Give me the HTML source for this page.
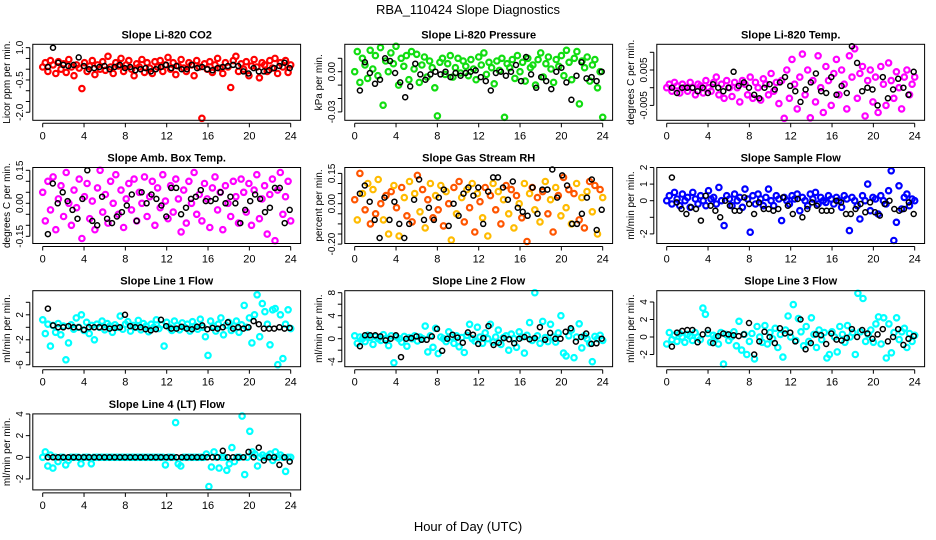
<!DOCTYPE html>
<html><head><meta charset="utf-8"><style>
html,body{margin:0;padding:0;background:#fff;}
svg{display:block;font-family:"Liberation Sans",Arial,sans-serif;}
</style></head><body>
<svg id="chart" width="936" height="540" viewBox="0 0 936 540">
<text x="468" y="14" text-anchor="middle" font-size="13">RBA_110424  Slope Diagnostics</text>
<text x="468" y="531" text-anchor="middle" font-size="13">Hour of Day (UTC)</text>
</svg>
<script>
const co2Col=[0.1,0.3,-0.1,0.4,0.2,-0.2,0.35,0.0,0.25,-0.15,0.45,0.1,-0.3,0.2,0.05,-0.9,0.3,-0.1,0.15,0.4,-0.25,0.2,0.0,0.35,-0.05,0.6,0.1,-0.2,0.3,0.15,0.5,-0.1,0.2,0.4,0.0,-0.3,0.25,0.1,0.45,-0.15,0.3,0.05,-0.2,0.35,0.1,0.4,-0.1,0.2,0.55,0.0,0.3,-0.25,0.15,0.45,0.05,-0.1,0.3,0.2,-0.3,0.4,0.1,-2.35,0.25,0.0,0.35,-0.15,0.2,0.5,0.05,-0.2,0.3,0.1,-0.85,0.4,0.6,-0.1,0.25,0.0,0.35,-0.3,0.15,0.45,0.1,-0.4,0.3,0.2,-0.1,0.4,0.05,0.5,-0.2,0.3,0.1,0.4,-0.15,0.2];
const co2Blk=[0.1,1.0,0.3,0.2,0.15,0.2,0.55,0.15,0.0,0.05,0.1,0.15,0.0,0.1,0.2,0.05,0.1,-0.05,0.0,0.05,-0.1,0.0,0.1,0.2,0.05,0.15,0.0,0.0,0.2,0.05,0.1,0.0,-0.05,0.05,0.1,0.15,0.2,0.15,-0.1,-0.2,0.05,-0.1,-0.1,-0.05,0.05,0.15,0.3,0.05];
const presCol=[0.0,0.015,-0.008,0.01,0.005,-0.005,0.016,0.002,0.012,-0.003,0.018,-0.025,0.008,0.0,0.014,0.006,0.019,-0.01,0.01,0.004,0.012,-0.006,0.015,0.002,0.013,-0.008,0.005,0.011,-0.004,0.008,0.003,-0.012,-0.033,0.007,0.01,-0.002,0.006,0.012,-0.004,0.003,0.01,-0.001,0.008,0.004,-0.003,0.009,0.002,-0.006,0.011,0.005,0.014,-0.002,0.007,0.003,-0.009,0.008,0.001,0.01,-0.034,0.006,0.003,0.009,-0.005,0.012,0.0,0.007,-0.007,0.01,0.003,0.005,-0.01,0.009,0.014,-0.004,0.006,0.011,0.002,-0.008,0.009,0.004,0.012,-0.003,0.016,0.007,-0.006,0.01,0.015,-0.024,0.008,0.003,0.011,-0.007,0.005,0.009,-0.012,0.0,-0.034];
const presBlk=[-0.014,0.007,-0.001,-0.009,-0.006,0.01,0.008,-0.001,-0.008,-0.019,-0.011,0.006,-0.002,-0.006,-0.002,0.0,-0.002,0.0,-0.004,-0.001,-0.003,-0.001,0.0,0.001,-0.004,-0.007,-0.014,-0.001,0.0,-0.003,0.0,0.005,-0.007,0.011,-0.002,-0.012,-0.004,-0.007,-0.013,0.0,0.003,-0.008,-0.021,-0.003,0.007,-0.005,-0.004,-0.007,0.0];
const tempCol=[0.0,0.001,-0.001,0.0015,0.0005,-0.0015,0.001,0.0,-0.001,0.0015,0.0,-0.002,0.001,0.0005,-0.0015,0.002,0.0,-0.001,0.0015,0.003,-0.002,0.001,-0.003,0.002,0.0,-0.0025,0.0015,0.0,-0.004,0.002,0.001,-0.002,0.003,-0.003,0.0015,0.0,-0.0035,0.0025,0.001,-0.002,0.004,-0.001,0.0015,-0.0045,0.002,-0.012,0.005,-0.003,0.008,0.001,-0.006,0.003,0.0095,-0.002,0.005,-0.0085,0.002,-0.004,0.009,0.0,-0.007,0.006,0.002,-0.005,0.004,0.008,-0.002,0.005,0.001,-0.006,0.009,0.003,0.011,-0.003,0.004,0.006,-0.008,0.002,0.005,-0.004,0.003,-0.007,0.006,0.001,-0.005,0.007,0.002,-0.003,0.0045,0.0,-0.006,0.003,0.005,-0.002,0.001,0.003];
const tempBlk=[0.0,-0.0015,0.0,0.0,0.0,-0.001,0.0,-0.0015,0.001,0.0,-0.001,0.0,0.0045,0.0005,0.0015,0.0,-0.002,-0.003,0.0,0.001,-0.0005,0.0015,0.003,0.0005,-0.001,-0.004,-0.0005,0.0015,0.004,-0.001,-0.0015,0.003,-0.002,0.0005,-0.0015,0.012,0.007,-0.001,0.0,-0.0005,-0.005,0.003,-0.003,-0.0005,0.0025,0.0,-0.002,0.0045];
const ambCol=[0.05,-0.08,0.1,-0.03,0.12,-0.12,0.02,0.08,-0.06,0.14,0.0,-0.1,0.06,-0.02,0.11,-0.16,0.03,0.09,-0.07,0.01,-0.12,0.07,0.15,-0.04,0.04,-0.09,0.1,0.0,0.13,-0.05,0.06,-0.11,0.02,0.09,-0.03,0.11,-0.08,0.05,0.0,0.12,-0.06,0.03,0.1,-0.1,0.07,-0.02,0.13,0.01,-0.07,0.08,-0.04,0.11,0.02,-0.13,0.06,-0.09,0.1,0.0,0.14,-0.05,0.04,-0.08,0.09,0.02,-0.11,0.07,0.12,-0.03,0.05,-0.12,0.08,0.0,-0.06,0.1,0.03,-0.09,0.11,0.05,-0.04,0.09,-0.1,0.06,0.13,-0.07,0.02,0.08,-0.14,0.04,0.11,-0.17,0.06,0.14,-0.05,0.03,0.1,-0.08];
const ambBlk=[-0.14,0.09,0.0,0.05,0.01,-0.03,-0.07,0.02,0.15,-0.08,-0.1,0.03,-0.07,-0.09,-0.06,-0.04,-0.01,0.04,-0.08,0.05,0.0,0.04,0.02,-0.01,-0.06,0.07,0.07,-0.05,-0.02,0.02,0.03,0.06,0.01,0.01,0.02,0.05,0.0,0.03,0.0,-0.09,-0.03,0.01,0.04,0.02,-0.04,-0.02,0.07,0.07,-0.09,-0.03];
const rhCol=[0.02,-0.08,0.15,0.05,-0.03,0.1,-0.1,0.07,-0.05,0.12,0.0,-0.08,0.04,-0.15,0.06,0.09,-0.02,-0.16,0.08,0.03,-0.06,0.11,-0.09,0.05,0.14,-0.04,0.07,-0.12,0.02,0.1,-0.07,0.04,-0.03,0.09,-0.11,0.06,0.0,-0.18,0.08,-0.05,0.11,0.03,-0.09,0.07,-0.02,0.1,-0.14,0.05,0.01,-0.07,0.08,-0.16,0.04,0.1,-0.03,0.06,-0.1,0.02,0.09,-0.05,0.07,-0.12,0.04,0.0,-0.07,0.1,-0.2,0.05,0.08,-0.03,0.03,-0.09,0.06,0.11,-0.05,0.02,-0.14,0.08,0.04,-0.06,0.13,-0.02,0.07,-0.1,0.05,0.1,-0.08,0.03,-0.12,0.06,0.11,-0.04,0.09,-0.15,0.07,0.03];
const rhBlk=[0.05,0.09,0.01,-0.08,-0.17,0.03,-0.08,0.01,-0.1,-0.17,-0.1,0.02,0.12,-0.08,-0.02,-0.08,0.03,0.07,-0.11,0.0,-0.06,0.05,0.08,0.04,0.08,-0.1,0.06,0.13,0.13,0.08,0.02,0.11,-0.02,-0.04,-0.06,0.08,-0.05,0.07,0.07,0.17,0.03,0.14,0.09,-0.1,-0.1,-0.05,0.03,0.12,-0.13,-0.03];
const sampCol=[0.0,0.3,-0.2,0.5,0.1,-0.3,0.4,0.0,0.2,-0.4,0.5,0.1,-0.2,0.3,0.0,-0.3,0.6,0.1,0.2,-0.2,0.8,0.0,-1.5,0.3,0.1,-0.3,0.4,0.0,0.2,-0.4,0.7,0.1,-1.9,0.3,-0.2,0.4,0.1,-0.3,0.2,0.7,0.0,-0.3,0.3,0.1,-1.2,0.2,0.0,-0.2,0.3,0.1,0.4,-0.6,0.2,0.0,-0.3,0.4,0.1,0.5,-0.2,0.2,0.0,-0.1,0.3,0.1,-0.2,0.2,0.0,-0.4,0.3,0.1,-1.8,0.2,0.0,-0.3,-1.1,0.3,0.0,1.0,-0.6,0.2,0.1,-0.8,0.3,0.0,-0.2,0.6,1.8,-2.4,-1.3,0.9,-0.5,0.2,0.4,-0.3,0.1,0.0];
const sampBlk=[1.4,-0.1,-0.5,-0.8,-0.4,-0.5,-1.2,0.3,-0.3,-0.6,-1.0,0.0,-0.3,-0.6,-0.6,0.2,-0.2,-0.8,-0.1,-0.5,-0.5,-0.6,-0.5,0.2,-0.3,-0.8,0.1,-1.0,-0.5,-0.1,-0.3,-0.6,-0.6,-0.6,0.0,-0.1,-0.8,-0.8,-0.5,-0.2,-0.7,-0.1,-0.7,-0.9,-0.2,0.0,-0.5,-0.6,-0.5,-0.1,-0.8];
const l1Col=[1.2,-1.0,0.5,-3.0,0.3,-0.8,0.6,-1.2,0.2,-5.2,-2.5,0.4,-0.3,1.5,0.0,2.0,-0.5,0.8,-1.0,0.3,-2.0,0.5,0.0,1.0,-0.4,0.6,0.2,-0.8,0.4,0.0,1.8,-0.3,0.5,0.9,-0.6,0.3,0.0,1.1,-0.4,0.6,0.2,-0.7,0.5,0.0,1.2,-0.2,0.4,-3.0,0.8,0.0,-0.5,1.0,0.3,-0.4,0.7,0.0,0.5,-0.6,0.9,0.2,-0.3,1.3,0.0,-1.5,-4.5,1.0,0.2,-0.6,0.5,1.5,-1.2,0.3,0.8,-0.5,0.2,1.0,-0.8,0.4,3.5,0.0,1.5,-2.5,2.0,5.2,-1.5,3.8,2.5,0.5,-2.8,2.8,3.0,-6.0,2.0,-5.0,0.5,2.8,-0.2];
const l1Blk=[3.0,0.3,0.0,0.0,0.2,0.0,0.0,-0.4,0.0,0.0,0.0,0.0,-0.2,-0.1,0.0,2.0,0.2,0.0,0.0,-0.3,-0.5,-0.3,1.2,0.2,-0.2,-0.2,0.1,-0.2,-0.3,0.1,0.3,-0.3,-0.1,-0.2,0.0,0.8,-0.2,0.0,-0.2,0.0,1.0,0.5,-0.2,-0.2,-0.2,0.0,-0.2,-0.1];
const l2Col=[0.5,-0.8,0.3,0.0,-0.5,0.6,0.2,-1.0,0.4,0.0,-0.3,0.7,0.0,-1.2,0.5,-4.2,0.3,0.0,-0.6,0.4,-1.3,0.2,0.0,0.5,-0.4,0.3,0.0,2.2,-2.3,0.5,-1.5,1.8,-2.6,0.3,0.0,-0.5,1.2,0.3,-0.8,0.5,-1.4,0.2,-2.4,0.6,2.5,0.0,-0.4,2.0,0.3,-0.8,1.0,0.0,2.5,-0.6,0.3,1.5,-1.0,0.2,0.5,-2.0,0.8,0.0,-1.5,1.2,0.3,-2.5,0.6,2.8,-0.3,8.0,0.5,-0.8,3.0,0.2,-0.5,2.5,0.3,-0.6,1.0,4.0,-2.5,-3.0,0.5,1.5,-3.3,0.3,2.6,-1.6,0.5,0.0,-0.8,-4.0,0.4,0.0,0.6,-0.3];
const l2Blk=[-1.3,0.6,0.6,0.6,0.4,-0.3,0.0,0.6,-3.2,0.0,0.1,0.4,-0.2,-0.2,0.4,1.7,-2.1,0.0,0.7,0.2,-0.7,1.1,0.7,-0.9,0.1,2.2,-1.1,-0.7,0.1,-0.1,-0.8,0.0,0.3,-0.1,0.1,2.0,-0.2,1.0,0.0,0.0,1.2,1.8,-0.5,0.3,0.9,-0.9,-0.8,0.0];
const l3Col=[-0.8,0.5,-0.3,0.2,-0.5,0.4,0.0,-0.6,0.3,0.1,-0.4,0.5,0.0,-0.3,3.3,2.6,0.4,-0.6,0.2,0.0,-0.8,0.5,-3.1,0.3,-0.4,0.0,0.6,-1.0,1.8,-1.5,0.3,-2.0,-0.5,0.4,-2.5,1.2,0.0,-0.6,1.3,-0.8,0.5,-0.2,1.0,-1.2,0.3,-2.3,0.8,2.4,0.0,3.7,-0.4,2.1,0.6,-1.0,1.2,-0.5,2.2,0.3,-1.2,0.8,-0.3,0.5,-2.4,-2.0,0.6,0.0,-1.7,1.2,0.3,-0.6,1.3,0.0,0.5,-2.0,5.0,0.6,4.4,-0.5,0.3,0.8,-0.6,1.5,2.3,-0.8,2.2,-2.4,1.5,-1.8,0.5,2.2,-0.3,0.6,1.0,-1.2,0.4,-0.5,0.2];
const l3Blk=[-1.1,0.5,0.7,0.8,0.8,-0.6,0.3,0.8,-0.7,0.1,0.4,0.3,0.2,0.1,0.3,1.6,-2.0,-0.5,0.6,0.0,-0.7,1.0,0.4,0.5,-0.5,2.0,-1.4,-0.7,0.3,0.2,-0.8,0.4,-0.3,-0.4,-0.1,0.9,0.0,0.8,0.4,-0.2,0.3,0.9,-0.5,0.0,0.9,-0.9,-0.2,0.1];
const l4Col=[0.0,0.5,-0.8,0.2,-1.0,0.0,-0.4,0.0,0.0,-0.7,-0.3,0.0,0.0,0.0,0.0,-0.6,0.0,0.0,0.0,-0.6,0.0,0.0,0.0,0.0,0.0,0.0,0.0,0.0,0.0,0.0,0.0,0.0,0.0,0.0,0.0,0.0,0.0,0.0,0.0,0.0,0.0,0.0,0.0,0.0,0.0,0.0,0.0,0.0,-0.7,0.0,0.0,0.0,3.2,-0.6,-0.8,0.0,0.0,0.0,0.0,0.0,0.0,0.0,0.0,0.0,0.3,-2.7,-0.9,0.5,0.0,-1.0,0.0,0.0,-1.2,-0.6,0.9,-0.4,0.0,0.0,3.8,-1.6,0.0,2.4,0.5,0.3,-0.8,0.0,0.2,0.0,0.1,0.3,-0.3,0.5,0.0,0.2,0.0,-1.3,0.0,0.0];
const l4Blk=[0,0,0,0,0,0,0,0,0,0,0,0,0,0,0,0,0,0,0,0,0,0,0,0,0,0,0,0,0,0,0,0,0,0,0.6,0,0,0,0,0.5,0,0.9,-0.3,0,0,-0.7,0,-0.4];
const xTickLabels=["0","4","8","12","16","20","24"];
const xTickValues=[0,4,8,12,16,20,24];

const panels=[
 {name:"co2",title:"Slope Li-820 CO2",ylab:"Licor ppm per min.",col:co2Col,blk:co2Blk,color:["#ff0000"],off:24.9,k:21.53,ticks:[-2,-1.5,-1,-0.5,0,0.5,1],labels:[[1,"1.0"],[-0.5,"-0.5"],[-2,"-2.0"]]},
 {name:"pressure",title:"Slope Li-820 Pressure",ylab:"kPa per min.",col:presCol,blk:presBlk,color:["#11dd11"],off:27.4,k:1340,ticks:[-0.03,-0.02,-0.01,0,0.01],labels:[[0,"0.00"],[-0.03,"-0.03"]]},
 {name:"temp",title:"Slope Li-820 Temp.",ylab:"degrees C per min.",col:tempCol,blk:tempBlk,color:["#ff00ff"],off:43.4,k:3540,ticks:[-0.005,0,0.005,0.01],labels:[[0.005,"0.005"],[-0.005,"-0.005"]]},
 {name:"amb-box-temp",title:"Slope Amb. Box Temp.",ylab:"degrees C per min.",col:ambCol,blk:ambBlk,color:["#ff00ff"],off:35.8,k:220,ticks:[-0.15,-0.1,-0.05,0,0.05,0.1,0.15],labels:[[0.15,"0.15"],[0,"0.00"],[-0.15,"-0.15"]]},
 {name:"gas-stream-rh",title:"Slope Gas Stream RH",ylab:"percent per min.",col:rhCol,blk:rhBlk,color:["#ff5500","#ffbb00"],off:36.2,k:202,ticks:[-0.2,-0.15,-0.1,-0.05,0,0.05,0.1,0.15],labels:[[0.15,"0.15"],[0,"0.00"],[-0.2,"-0.20"]]},
 {name:"sample-flow",title:"Slope Sample Flow",ylab:"ml/min per min.",col:sampCol,blk:sampBlk,color:["#0000ff"],off:33.2,k:16.6,ticks:[-2,-1,0,1,2],labels:[[2,"2"],[1,"1"],[0,"0"],[-2,"-2"]]},
 {name:"line1-flow",title:"Slope Line 1 Flow",ylab:"ml/min per min.",col:l1Col,blk:l1Blk,color:["#00ffff"],off:36.6,k:6.25,ticks:[-6,-4,-2,0,2,4],labels:[[2,"2"],[-2,"-2"],[-6,"-6"]]},
 {name:"line2-flow",title:"Slope Line 2 Flow",ylab:"ml/min per min.",col:l2Col,blk:l2Blk,color:["#00ffff"],off:48,k:5.75,ticks:[-4,-2,0,2,4,6,8],labels:[[8,"8"],[4,"4"],[0,"0"],[-4,"-4"]]},
 {name:"line3-flow",title:"Slope Line 3 Flow",ylab:"ml/min per min.",col:l3Col,blk:l3Blk,color:["#00ffff"],off:46.3,k:8.75,ticks:[-2,0,2,4],labels:[[4,"4"],[2,"2"],[0,"0"],[-2,"-2"]]},
 {name:"line4-flow",title:"Slope Line 4 (LT) Flow",ylab:"ml/min per min.",col:l4Col,blk:l4Blk,color:["#00ffff"],off:43.4,k:10.83,ticks:[-2,0,2,4],labels:[[4,"4"],[2,"2"],[0,"0"],[-2,"-2"]]}
];

const NS="http://www.w3.org/2000/svg";
const svg=document.getElementById("chart");
function mk(tag,attrs,parent){const e=document.createElementNS(NS,tag);for(const k in attrs)e.setAttribute(k,attrs[k]);(parent||svg).appendChild(e);return e;}

panels.forEach((p,idx)=>{
  const c=idx%3, r=Math.floor(idx/3);
  const x0=42.7+312*c, pxH=10.333;
  const top=44.3+123.2*r, h=76;
  const left=x0-9.9, w=267.8;
  const xs=t=>x0+t*pxH;
  const ys=v=>top+p.off-v*p.k;
  const g=mk("g",{});
  
  
  const t=mk("text",{x:left+w/2,y:top-6,"text-anchor":"middle","font-size":"11","font-weight":"bold"},g);
  t.textContent=p.title;
  
  
  const yl=mk("text",{x:0,y:0,"text-anchor":"middle","font-size":"10",transform:`translate(${left-23},${top+h/2}) rotate(-90)`},g);
  yl.textContent=p.ylab;
  
  
  const pts=mk("g",{fill:"none"},g);
  
  
  const n=p.col.length;
  p.col.forEach((v,i)=>{
    const tt=i*24/(n-1);
    const y=Math.max(top+2,Math.min(top+h-2,ys(v)));
    const ci=mk("circle",{cx:xs(tt).toFixed(1),cy:y.toFixed(1),r:"2.7","stroke-width":"2.2",stroke:p.color[i%p.color.length]},pts);
    
    
  });
  const nb=p.blk.length;
  p.blk.forEach((v,i)=>{
    const tt=0.5+i*23.4/(nb-1);
    const y=Math.max(top+2,Math.min(top+h-2,ys(v)));
    const ci=mk("circle",{cx:xs(tt).toFixed(1),cy:y.toFixed(1),r:"2.5",stroke:"#000","stroke-width":"1.5"},pts);
    
    
  });
  const box=mk("rect",{x:left,y:top,width:w,height:h,fill:"none",stroke:"#000","stroke-width":"1"},g);
  
  
  const ax=mk("g",{stroke:"#000","stroke-width":"1"},g);
  
  
  const ay=top+h+3;
  mk("line",{x1:xs(0),x2:xs(24),y1:ay,y2:ay},ax);
  xTickValues.forEach((v,i)=>{
    mk("line",{x1:xs(v),x2:xs(v),y1:ay,y2:ay+4},ax);
    const tl=mk("text",{x:xs(v),y:ay+16,"text-anchor":"middle","font-size":"11",stroke:"none",fill:"#000"},ax);
    tl.textContent=xTickLabels[i];
    
    
  });
  const yax=mk("g",{stroke:"#000","stroke-width":"1"},g);
  
  
  const axx=left-3;
  const tmin=Math.min(...p.ticks), tmax=Math.max(...p.ticks);
  mk("line",{x1:axx,x2:axx,y1:ys(tmin),y2:ys(tmax)},yax);
  p.ticks.forEach(v=>mk("line",{x1:axx-4,x2:axx,y1:ys(v),y2:ys(v)},yax));
  p.labels.forEach(([v,s])=>{
    const tl=mk("text",{x:0,y:0,"text-anchor":"middle","font-size":"10",stroke:"none",fill:"#000",transform:`translate(${axx-7},${ys(v)}) rotate(-90)`},yax);
    tl.textContent=s;
    
    
  });
});
</script>
</body></html>
